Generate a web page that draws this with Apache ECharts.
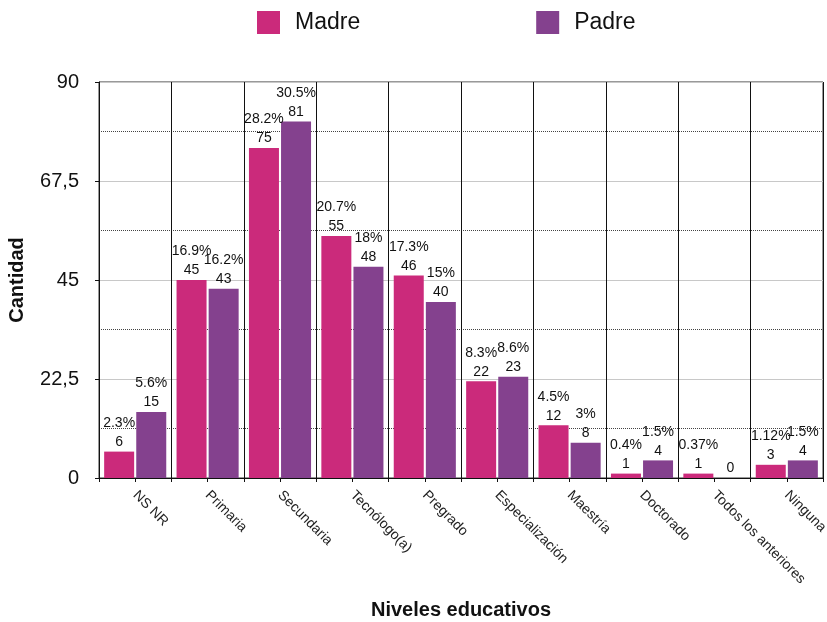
<!DOCTYPE html>
<html>
<head>
<meta charset="utf-8">
<script src="https://cdn.jsdelivr.net/npm/echarts@6/dist/echarts.min.js"></script>
<style>html,body{margin:0;padding:0;background:#fff}#c{width:827px;height:622px}</style>
</head>
<body>
<div id="c"></div>
<script>
const categories = ["NS NR","Primaria","Secundaria","Tecnólogo(a)","Pregrado","Especialización","Maestría","Doctorado","Todos los anteriores","Ninguna"];
const madreValues = [6,45,75,55,46,22,12,1,1,3];
const padreValues = [15,43,81,48,40,23,8,4,0,4];
const madrePct = ["2.3%","16.9%","28.2%","20.7%","17.3%","8.3%","4.5%","0.4%","0.37%","1.12%"];
const padrePct = ["5.6%","16.2%","30.5%","18%","15%","8.6%","3%","1.5%","","1.5%"];
const yTicks = [0,22.5,45,67.5,90];

const FONT = "'Liberation Sans', Arial, Helvetica, sans-serif";
const chart = echarts.init(document.getElementById('c'), null, {renderer:'canvas'});

function labelFor(pcts){
  return {
    show:true, position:'top', distance:0, color:'#111', fontSize:14, fontFamily:FONT, lineHeight:19,
    formatter: p => (pcts[p.dataIndex] ? pcts[p.dataIndex] + '\n' : '') + p.value
  };
}

const halfTicks = [];
categories.forEach(()=>{ halfTicks.push(''); halfTicks.push(''); });

chart.setOption({
  animation:false,
  textStyle:{fontFamily:FONT},
  legend:{
    top:11, left:257, padding:0, itemWidth:23, itemHeight:23, itemGap:176,
    icon:'rect',
    textStyle:{fontSize:23, color:'#111', fontFamily:FONT, padding:[0,0,0,10]},
    data:['Madre','Padre']
  },
  grid:{left:99, right:4, top:82, bottom:144, show:true, borderColor:'#333', borderWidth:1, outerBoundsMode:'none', containLabel:false},
  xAxis:[{
    type:'category', data:categories,
    axisLine:{show:true, lineStyle:{color:'#111'}},
    axisTick:{show:false},
    splitLine:{show:true, interval:0, lineStyle:{color:'#111', width:1}},
    axisLabel:{interval:0, rotate:-45, fontSize:14, color:'#222', margin:15, fontFamily:FONT},
    name:'Niveles educativos', nameLocation:'middle', nameGap:122,
    nameTextStyle:{fontSize:20, fontWeight:'bold', color:'#111', fontFamily:FONT}
  },{
    type:'category', data:halfTicks, position:'bottom',
    axisLine:{show:false},
    axisTick:{show:true, interval:0, length:4, lineStyle:{color:'#111'}},
    axisLabel:{show:false}, splitLine:{show:false}
  }],
  yAxis:{
    type:'value', min:yTicks[0], max:yTicks[yTicks.length-1], interval:22.5,
    axisLine:{show:true, lineStyle:{color:'#111'}},
    axisTick:{show:true, length:4, lineStyle:{color:'#111'}},
    axisLabel:{fontSize:20, color:'#111', margin:20, fontFamily:FONT,
      formatter: v => String(v).replace('.', ',')},
    splitLine:{show:true, lineStyle:{color:'#c8c8c8', width:1}},
    minorTick:{show:false, splitNumber:2},
    minorSplitLine:{show:true, lineStyle:{color:'#444', type:'dotted', width:1}},
    name:'Cantidad', nameLocation:'middle', nameGap:72, nameRotate:90,
    nameTextStyle:{fontSize:20, fontWeight:'bold', color:'#111', fontFamily:FONT}
  },
  series:[
    {name:'Madre', type:'bar', data:madreValues, barWidth:30, barGap:'7%',
     itemStyle:{color:'#CB2A7B'}, label:labelFor(madrePct)},
    {name:'Padre', type:'bar', data:padreValues, barWidth:30, barGap:'7%',
     itemStyle:{color:'#84418E'}, label:labelFor(padrePct)}
  ]
});
</script>
</body>
</html>
